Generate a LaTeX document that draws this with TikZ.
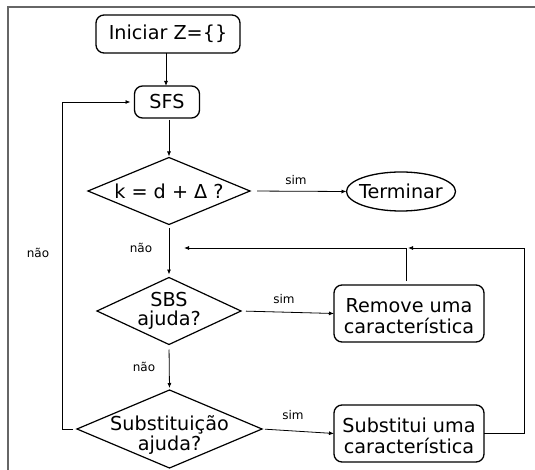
\documentclass[tikz,border=0pt]{standalone}
\usepackage{fontspec}
\setmainfont{DejaVu Sans}
\usetikzlibrary{shapes.geometric,arrows.meta}

\begin{document}
\begin{tikzpicture}[x=1pt,y=-1pt,
  every node/.style={inner sep=0pt, outer sep=0pt},
  txt/.style={align=center, font=\fontsize{19.2}{20.5}\selectfont},
  lbl/.style={font=\fontsize{12}{14}\selectfont},
  rbox/.style={draw, rounded corners=8pt, line width=1.3pt, align=center,
    font=\fontsize{19.2}{20.5}\selectfont},
  dia/.style={draw, diamond, line width=1.2pt},
  oval/.style={draw, ellipse, line width=1.3pt},
  flow/.style={line width=0.8pt, -{Latex[length=5pt,width=4pt]}},
  plain/.style={line width=0.8pt}]

\useasboundingbox (0,0) rectangle (535,470);

% outer frame
\draw[line width=1.4pt, black!60] (8,470) -- (8,7) -- (535,7);

% start and loop head
\node[rbox, minimum width=144pt, minimum height=38pt] (start) at (168,34) {Iniciar Z=\{\}};
\node[rbox, minimum width=65pt, minimum height=32pt] (sfs) at (167,102) {SFS};

% stopping test
\node[dia, minimum width=162pt, minimum height=67pt] (d1) at (169,191) {};
\node[txt] (d1t) at (d1.center) {k = d + Δ ?};
\node[oval, minimum width=109pt, minimum height=39pt] (stop) at (401,191.5) {};
\node[txt] (stopt) at (stop.center) {Terminar};

% backward step test
\node[dia, minimum width=144pt, minimum height=67pt] (d2) at (169,311) {};
\node[txt, font=\fontsize{19.2}{19}\selectfont] (d2t) at (d2.center) {SBS\\ajuda?};
\node[rbox, minimum width=150pt, minimum height=57pt] (rem) at (409,313.5) {};
\node[txt] (remt) at ([yshift=-2.5pt]rem.center) {Remove uma\\característica};

% substitution test
\node[dia, minimum width=185pt, minimum height=78pt] (d3) at (169.5,429) {};
\node[txt] (d3t) at ([yshift=-6pt]d3.center) {Substituição\\ajuda?};
\node[rbox, minimum width=150pt, minimum height=57pt] (sub) at (409,433.5) {};
\node[txt] (subt) at ([yshift=-2.5pt]sub.center) {Substitui uma\\característica};

% main flow
\draw[flow] (start.south -| 166,0) -- (sfs.north -| 166,0);
\draw[flow, shorten <=2pt, shorten >=1pt] (sfs.south -| 169,0) -- (d1.north);
\draw[flow, shorten <=7pt] (d1.east) -- (stop.west);
\node[lbl] (sim1) at (296,180) {sim};
\draw[flow, shorten <=4pt, shorten >=3pt] (d1.south) -- (d2.north);
\node[lbl] (nao1) at (141,248) {não};
\draw[flow, shorten <=5pt] (d2.east) -- (rem.west);
\node[lbl] (sim2) at (284,299) {sim};
\draw[flow, shorten <=5pt, shorten >=2pt] (d2.south) -- (d3.north);
\node[lbl] (nao2) at (144,367) {não};
\draw[flow, shorten <=3pt] (d3.east) -- (sub.west);
\node[lbl] (sim3) at (293,415) {sim};

% return paths
\coordinate (back) at (184,248);
\coordinate (join) at (406,248);
\draw[flow, shorten <=4pt] (rem.north -| join) -- (join) -- (back);
\draw[flow, shorten >=2pt] (sub.east) -- ++(40,0) |- (join);
\draw[flow, shorten <=4pt, shorten >=4pt] (d3.west) -- (62,429) |- (sfs.west);
\node[lbl] (nao3) at (38,253) {não};

\end{tikzpicture}
\end{document}
